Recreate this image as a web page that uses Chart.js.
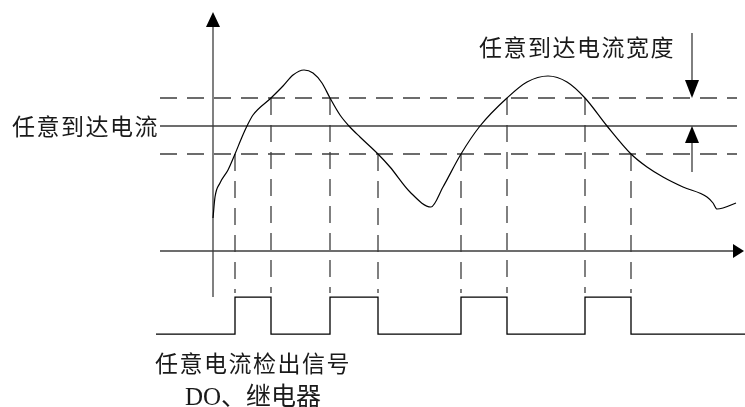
<!DOCTYPE html>
<html>
<head>
<meta charset="utf-8">
<script src="https://cdn.jsdelivr.net/npm/chart.js@4/dist/chart.umd.min.js"></script>
<style>
html,body{margin:0;padding:0;background:#fff;}
#wrap{width:745px;height:407px;position:relative;}
</style>
</head>
<body>
<div id="wrap"><canvas id="c" width="745" height="407"></canvas></div>
<script>
// ---- data (time units, current units) ----
const curveT = [0, 0.2, 0.7, 1.5, 2.2, 2.9, 3.4, 4.0, 5.8, 7.0, 8.0, 9.1, 10.0, 10.9, 11.7, 12.7, 13.6, 14.7, 16.5, 17.7, 19.7, 21.8, 23.0, 24.8, 26.7, 29.4, 31.4, 33.5, 35.4, 37.2, 39.4, 41.8, 43.4, 45.0, 47.0, 49.4, 50.0, 50.4, 51.0, 52.3];
const curveI = [1.32, 2.16, 2.72, 3.24, 3.88, 4.56, 5.0, 5.44, 6.12, 6.6, 7.04, 7.24, 7.12, 6.72, 6.12, 5.44, 5.0, 4.56, 3.88, 3.36, 2.36, 1.76, 2.56, 3.88, 5.0, 6.12, 6.76, 7.0, 6.76, 6.12, 5.0, 3.88, 3.36, 2.96, 2.56, 2.16, 1.92, 1.68, 1.72, 1.92];
const threshold = 5.0;
const bandUpper = 6.12;
const bandLower = 3.88;
const crossT = [2.2, 5.8, 11.7, 16.5, 24.8, 29.4, 37.2, 41.8];
const crossKind = ['lower', 'upper', 'upper', 'lower', 'lower', 'upper', 'upper', 'lower'];
const doT = [-5.7, 2.2, 5.8, 11.7, 16.5, 24.8, 29.4, 37.2, 41.8, 53.2];
const doState = [0, 1, 0, 1, 0, 1, 0, 1, 0, 0];
const labelThreshold = '任意到达电流';
const labelWidth = '任意到达电流宽度';
const labelSignal1 = '任意电流检出信号';
const labelSignal2 = 'DO、继电器';

// ---- layout constants (not data) ----
const tStart = -5.3, tEnd = 52.4, tAxisEnd = 52.0, tArrowTip = 53.1;
const yAxisBottom = -1.84, yAxisTop = 8.96, yArrowTip = 9.56;
const dashBottom = -1.68;
const widthArrowT = 47.9;
const LINE = '#3c3c3c';
const DASH = [17, 10];

function hline(v, t0, t1) { return [{x: t0, y: v}, {x: t1, y: v}]; }

const curveData = curveT.map((t, i) => ({x: t, y: curveI[i]}));
const vdashData = [];
crossT.forEach((t, i) => {
  const top = crossKind[i] === 'upper' ? bandUpper : bandLower;
  vdashData.push({x: t, y: top}, {x: t, y: dashBottom}, {x: t, y: null});
});
const doData = doT.map((t, i) => ({x: t, y: doState[i]}));

const base = {showLine: true, pointRadius: 0, fill: false, borderWidth: 1.3, borderColor: LINE, tension: 0};

const arrowPlugin = {
  id: 'arrows',
  afterDatasetsDraw(chart) {
    const ctx = chart.ctx, xs = chart.scales.x, ys = chart.scales.y;
    ctx.save();
    ctx.fillStyle = '#000';
    function tri(x1, y1, x2, y2, x3, y3) {
      ctx.beginPath(); ctx.moveTo(x1, y1); ctx.lineTo(x2, y2); ctx.lineTo(x3, y3); ctx.closePath(); ctx.fill();
    }
    // y axis arrow (up)
    const ax = xs.getPixelForValue(0);
    const tipY = ys.getPixelForValue(yArrowTip), baseY = ys.getPixelForValue(yAxisTop);
    tri(ax, tipY, ax - 7, baseY, ax + 7, baseY);
    // x axis arrow (right)
    const ay = ys.getPixelForValue(0);
    const tipX = xs.getPixelForValue(tArrowTip), baseX = xs.getPixelForValue(tAxisEnd);
    tri(tipX, ay, baseX, ay - 7, baseX, ay + 7);
    // band width arrows
    const wx = xs.getPixelForValue(widthArrowT);
    const up = ys.getPixelForValue(bandUpper), mid = ys.getPixelForValue(threshold);
    tri(wx, up, wx - 7, up - 18, wx + 7, up - 18);
    tri(wx, mid, wx - 7, mid + 17, wx + 7, mid + 17);
    // texts
    ctx.fillStyle = '#1a1a1a';
    ctx.textBaseline = 'middle';
    ctx.font = '23px "Noto Sans CJK SC", sans-serif';
    try { ctx.letterSpacing = '1.5px'; } catch (e) {}
    ctx.textAlign = 'right';
    ctx.fillText(labelThreshold, xs.getPixelForValue(-5.4), ys.getPixelForValue(threshold));
    ctx.textAlign = 'left';
    ctx.fillText(labelWidth, xs.getPixelForValue(26.6), ys.getPixelForValue(8.16));
    ctx.fillText(labelSignal1, xs.getPixelForValue(-5.8), ys.getPixelForValue(-4.48));
    try { ctx.letterSpacing = '0px'; } catch (e) {}
    ctx.font = '25px "Liberation Serif", "Noto Sans CJK SC", serif';
    ctx.fillText(labelSignal2, xs.getPixelForValue(-2.8), ys.getPixelForValue(-5.88));
    ctx.restore();
  }
};

new Chart(document.getElementById('c'), {
  type: 'scatter',
  data: {
    datasets: [
      Object.assign({}, base, {data: curveData, borderColor: '#000', borderWidth: 1.2, cubicInterpolationMode: 'monotone'}),
      Object.assign({}, base, {data: hline(threshold, tStart, tEnd)}),
      Object.assign({}, base, {data: hline(bandUpper, tStart, tEnd), borderDash: DASH}),
      Object.assign({}, base, {data: hline(bandLower, tStart, tEnd), borderDash: DASH}),
      Object.assign({}, base, {data: hline(0, tStart, tAxisEnd)}),
      Object.assign({}, base, {data: [{x: 0, y: yAxisBottom}, {x: 0, y: yAxisTop}]}),
      Object.assign({}, base, {data: vdashData, borderDash: DASH, spanGaps: false}),
      Object.assign({}, base, {data: [{x: widthArrowT, y: 8.72}, {x: widthArrowT, y: bandUpper + 0.5}]}),
      Object.assign({}, base, {data: [{x: widthArrowT, y: threshold - 0.5}, {x: widthArrowT, y: 3.16}]}),
      Object.assign({}, base, {data: doData, stepped: 'before', yAxisID: 'y2', borderColor: '#000'})
    ]
  },
  options: {
    responsive: false,
    animation: false,
    devicePixelRatio: 1,
    layout: {padding: 0},
    plugins: {legend: {display: false}, tooltip: {enabled: false}},
    scales: {
      x: {type: 'linear', min: -21.3, max: 53.2, display: false},
      y: {type: 'linear', min: -6.24, max: 10.04, display: false},
      y2: {type: 'linear', min: -1.97, max: 9.03, display: false}
    }
  },
  plugins: [arrowPlugin]
});
</script>
</body>
</html>
